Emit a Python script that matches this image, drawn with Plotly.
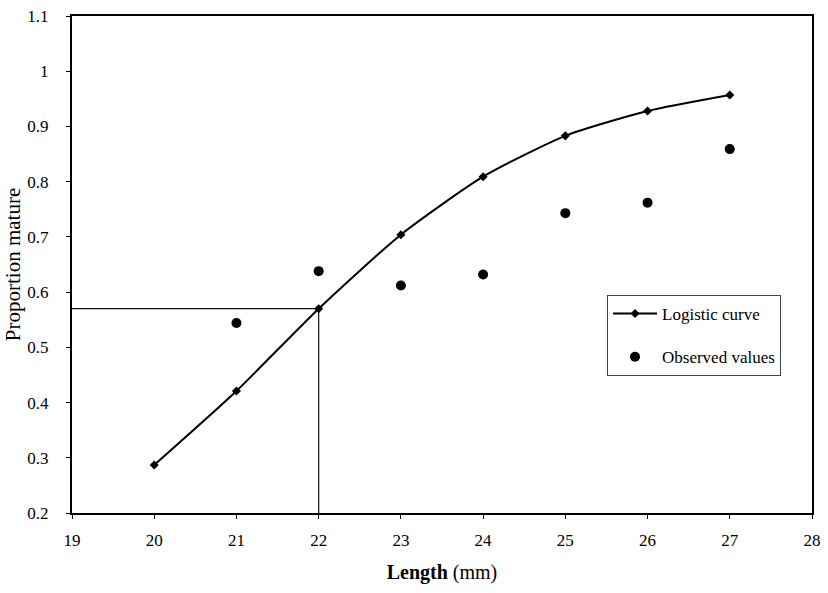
import plotly.graph_objects as go

# Length classes (mm) and maturity proportions
lengths = [20, 21, 22, 23, 24, 25, 26, 27]
logistic_fit = [0.287, 0.421, 0.570, 0.704, 0.809, 0.883, 0.928, 0.957]

obs_lengths = [21, 22, 23, 24, 25, 26, 27]
observed = [0.544, 0.638, 0.612, 0.632, 0.743, 0.762, 0.859]

# Length at which the fitted curve gives the reference proportion
ref_length = 22
ref_prop = 0.570
x_min, x_max = 19, 28
y_min, y_max = 0.2, 1.1

x_ticks = [19, 20, 21, 22, 23, 24, 25, 26, 27, 28]
y_ticks = [0.2, 0.3, 0.4, 0.5, 0.6, 0.7, 0.8, 0.9, 1.0, 1.1]
y_tick_text = ["0.2", "0.3", "0.4", "0.5", "0.6", "0.7", "0.8", "0.9", "1", "1.1"]

FONT = "Liberation Serif, Times New Roman, serif"

fig = go.Figure()

# Guide lines to the reference point
fig.add_trace(go.Scatter(
    x=[x_min, ref_length, ref_length], y=[ref_prop, ref_prop, y_min],
    mode="lines", line=dict(color="#111", width=1.2),
    showlegend=False, hoverinfo="skip"))

fig.add_trace(go.Scatter(
    x=lengths, y=logistic_fit, name="Logistic curve", legendgroup="fit",
    mode="lines+markers", line=dict(color="#000", width=2, shape="spline", smoothing=0.6),
    marker=dict(symbol="diamond", size=7, color="#000")))

fig.add_trace(go.Scatter(
    x=obs_lengths, y=observed, name="Observed values", legendgroup="obs",
    mode="markers", marker=dict(symbol="circle", size=10, color="#000")))

fig.update_layout(
    width=828, height=593,
    margin=dict(l=72, r=16, t=16, b=80),
    paper_bgcolor="white", plot_bgcolor="white",
    font=dict(family=FONT, size=17, color="#000"),
    showlegend=True,
    legend=dict(
        x=0.723, y=0.4386, xanchor="left", yanchor="top",
        bgcolor="white", bordercolor="#444", borderwidth=1,
        font=dict(family=FONT, size=17, color="#000"),
        itemwidth=44, tracegroupgap=18,
    ),
    xaxis=dict(
        range=[x_min, x_max], tickvals=x_ticks,
        showgrid=False, zeroline=False, automargin=False,
        showline=True, linecolor="#000", linewidth=2, mirror=True,
        ticks="outside", ticklen=4, tickcolor="#000",
        ticklabelstandoff=7,
        tickfont=dict(family=FONT, size=17),
        title=dict(text="<b>Length</b> (mm)", font=dict(family=FONT, size=20), standoff=16),
    ),
    yaxis=dict(
        range=[y_min, y_max], tickvals=y_ticks, ticktext=y_tick_text,
        showgrid=False, zeroline=False, automargin=False,
        showline=True, linecolor="#000", linewidth=2, mirror=True,
        ticks="outside", ticklen=4, tickcolor="#000",
        ticklabelstandoff=14,
        tickfont=dict(family=FONT, size=17),
        title=dict(text="Proportion mature", font=dict(family=FONT, size=21), standoff=1),
    ),
)

fig.write_html("out.html")
